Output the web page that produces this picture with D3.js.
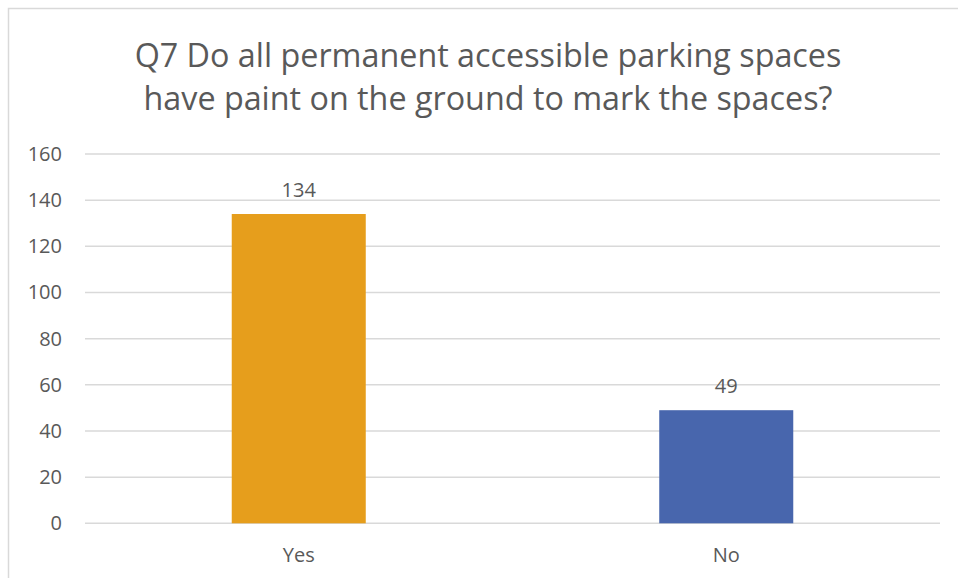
<!DOCTYPE html>
<html>
<head>
<meta charset="utf-8">
<script src="https://cdn.jsdelivr.net/npm/d3@7"></script>
<style>
	html, body { margin: 0; padding: 0; background: #fff; }
	svg { display: block; }
	text { font-family: 'Open Sans', sans-serif; fill: #595959; }
</style>
</head>
<body>
<div id="chart"></div>
<script>
let titleLines	= ['Q7 Do all permanent accessible parking spaces', 'have paint on the ground to mark the spaces?'];
let categories	= ['Yes', 'No'];
let counts		= [134, 49];
let barColors	= ['#e69e1c', '#4866ad'];
let yTicks		= [0, 20, 40, 60, 80, 100, 120, 140, 160];

let width	= 958;
let height	= 578;
let margin	= { top: 154, right: 18, bottom: 54.7, left: 85 };

let svg = d3.select('#chart').append('svg')
	.attr('width', width)
	.attr('height', height);

// chart frame (cropped on the right and bottom)
svg.append('rect')
	.attr('x', 8.5)
	.attr('y', 8.5)
	.attr('width', width + 20)
	.attr('height', height + 20)
	.attr('fill', 'none')
	.attr('stroke', '#d9d9d9')
	.attr('stroke-width', 1.5);

svg.append('text')
	.attr('text-anchor', 'middle')
	.style('font-size', '32.3px')
	.selectAll('tspan').data(titleLines).enter().append('tspan')
		.attr('x', 488)
		.attr('y', (d, i) => 67 + i * 43)
		.text(d => d);

let x = d3.scaleBand()
	.domain(categories)
	.range([margin.left, width - margin.right])
	.padding(0);

let y = d3.scaleLinear()
	.domain([0, 160])
	.range([height - margin.bottom, margin.top]);

let barWidth = x.bandwidth() / 3.19;

// gridlines
svg.append('g')
	.selectAll('line').data(yTicks).enter().append('line')
		.attr('x1', margin.left)
		.attr('x2', width - margin.right)
		.attr('y1', d => y(d))
		.attr('y2', d => y(d))
		.attr('stroke', '#d9d9d9')
		.attr('stroke-width', 1.5);

let yAxis = svg.append('g')
	.attr('transform', 'translate(' + 62 + ',0)')
	.call(d3.axisLeft(y).tickValues(yTicks).tickSize(0).tickPadding(0));
yAxis.select('.domain').remove();
yAxis.selectAll('text')
	.attr('fill', '#595959')
	.style('font-family', "'Open Sans', sans-serif")
	.style('font-size', '20px');

let bars = svg.append('g')
	.selectAll('rect').data(categories).enter().append('rect')
		.attr('x', d => x(d) + (x.bandwidth() - barWidth) / 2)
		.attr('width', barWidth)
		.attr('y', (d, i) => y(counts[i]))
		.attr('height', (d, i) => y(0) - y(counts[i]))
		.attr('fill', (d, i) => barColors[i]);

svg.append('g')
	.selectAll('text').data(categories).enter().append('text')
		.attr('x', d => x(d) + x.bandwidth() / 2)
		.attr('y', (d, i) => y(counts[i]) - 17)
		.attr('text-anchor', 'middle')
		.style('font-size', '20px')
		.text((d, i) => counts[i]);

let xAxis = svg.append('g')
	.attr('transform', 'translate(0,' + (height - margin.bottom) + ')')
	.call(d3.axisBottom(x).tickSize(0).tickPadding(0));
xAxis.select('.domain').remove();
xAxis.selectAll('text')
	.attr('fill', '#595959')
	.attr('dy', null)
	.attr('y', 39)
	.style('font-family', "'Open Sans', sans-serif")
	.style('font-size', '20px');
</script>
</body>
</html>
